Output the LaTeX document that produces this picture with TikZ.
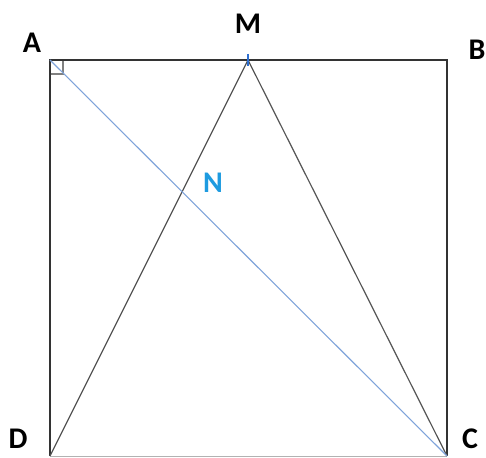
\documentclass[tikz,border=0pt]{standalone}
\usepackage{fontspec}
\setmainfont{Carlito}
\definecolor{edge}{HTML}{333333}
\definecolor{thin}{HTML}{555555}
\definecolor{diag}{HTML}{7FA3DA}
\definecolor{nlab}{HTML}{1E9BE0}
\definecolor{tick}{HTML}{2E6FD0}
\begin{document}
\begin{tikzpicture}[x=1pt,y=-1pt,
  lbl/.style={font=\fontsize{30}{30}\selectfont\bfseries, inner sep=0pt},
  side/.style={draw=edge, line width=2.2pt},
  seg/.style={draw=thin, line width=1.2pt}]
\useasboundingbox (0,0) rectangle (486,457);
\coordinate (A) at (50,60);
\coordinate (B) at (447,60);
\coordinate (C) at (447,456);
\coordinate (D) at (50,456);
\coordinate (M) at (248,60);
\coordinate (N) at (182,192);
% right angle mark
\coordinate (R1) at (63,60);
\coordinate (R2) at (63,74);
\coordinate (R3) at (50,74);
\draw[draw=gray, line width=1.1pt] (R1) -- (R2) -- (R3);
% sides
\draw[draw=lightgray!80!gray, line width=0.9pt] (D) -- (C);
\draw[side] (D) -- (A) -- (B) -- (C);
% triangle sides
\draw[seg] (D) -- (M) -- (C);
% diagonal
\draw[draw=diag, line width=1.1pt] (A) -- (C);
% tick at M
\coordinate (T1) at (248,54);
\coordinate (T2) at (248,66);
\draw[draw=tick, line width=1.8pt] (T1) -- (T2);
% labels
\node[lbl] (lA) at (32,43) {A};
\node[lbl] (lB) at (477,50) {B};
\node[lbl] (lC) at (470,439) {C};
\node[lbl] (lD) at (18,439) {D};
\node[lbl] (lM) at (248,24) {M};
\node[lbl, text=nlab] (lN) at (213,183) {N};
\end{tikzpicture}
\end{document}
